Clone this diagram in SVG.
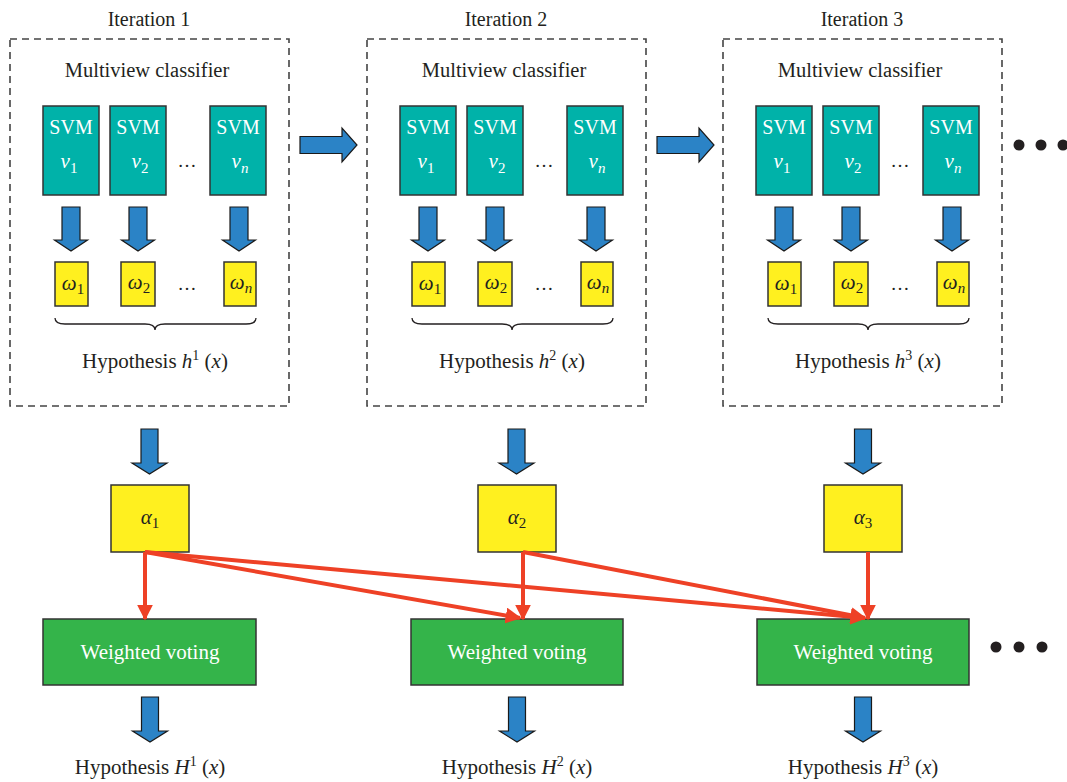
<svg xmlns="http://www.w3.org/2000/svg" xmlns:xlink="http://www.w3.org/1999/xlink" width="1067" height="782" viewBox="0 0 1067 782">
<style>
text{font-family:"Liberation Serif","Times New Roman",serif;fill:#231f20}
.panel{fill:none;stroke:#444;stroke-width:1.6;stroke-dasharray:7,5}
.svm{fill:#00b2a9;stroke:#333;stroke-width:1.5}
.w{fill:#fff01f;stroke:#333;stroke-width:1.5}
.vote{fill:#34b44a;stroke:#333;stroke-width:1.5}
.barrow{fill:#2b83c6;stroke:#1a1a1a;stroke-width:1.2;stroke-linejoin:miter}
.brace{fill:none;stroke:#231f20;stroke-width:1.3}
.red{stroke:#ee4126;stroke-width:4;fill:none}
.wt{fill:#ffffff}
.it{font-style:italic}
.dot{fill:#231f20}
.ttl{font-size:20px}
.mv{font-size:20.5px}
.hy{font-size:21px}
.gk{font-size:21px}
</style>
<defs>
<path id="da" class="barrow" d="M-9,0 H9 V33 H16.5 L0,44 L-16.5,33 H-9 Z"/>
<path id="db" class="barrow" d="M-8.5,0 H8.5 V34 H17.5 L0,45 L-17.5,34 H-8.5 Z"/>
<path id="ra" class="barrow" d="M0,-8.5 H42 V-17 L57,0 L42,17 V8.5 H0 Z"/>
<marker id="rh" viewBox="0 0 10 10" refX="9" refY="5" markerWidth="4" markerHeight="4" orient="auto" markerUnits="strokeWidth">
<path d="M0,0 L10,5 L0,10 Z" fill="#ee4126"/>
</marker>
</defs>

<!-- Panel 1 -->
<g id="iteration1">
<text class="ttl" x="149" y="26" text-anchor="middle">Iteration 1</text>
<rect class="panel" x="10" y="39" width="279" height="367"/>
<text class="mv" x="147" y="77" text-anchor="middle">Multiview classifier</text>
<g id="svm1-1"><rect class="svm" x="43" y="106" width="56" height="89"/><text class="wt" x="71" y="134" font-size="20" text-anchor="middle">SVM</text><text class="wt" x="69" y="168" font-size="21" text-anchor="middle"><tspan class="it wt">v</tspan><tspan class="wt" font-size="15" dy="5">1</tspan></text></g>
<g id="svm1-2"><rect class="svm" x="110" y="106" width="56" height="89"/><text class="wt" x="138" y="134" font-size="20" text-anchor="middle">SVM</text><text class="wt" x="140" y="168" font-size="21" text-anchor="middle"><tspan class="it wt">v</tspan><tspan class="wt" font-size="15" dy="5">2</tspan></text></g>
<text x="187" y="167" font-size="19" text-anchor="middle">…</text>
<g id="svm1-n"><rect class="svm" x="210" y="106" width="56" height="89"/><text class="wt" x="238" y="134" font-size="20" text-anchor="middle">SVM</text><text class="wt" x="240" y="168" font-size="21" text-anchor="middle"><tspan class="it wt">v</tspan><tspan class="it wt" font-size="15" dy="5">n</tspan></text></g>
<use href="#da" x="71" y="207"/>
<use href="#da" x="138" y="207"/>
<use href="#da" x="239" y="207"/>
<g id="w1-1"><rect class="w" x="55" y="262" width="33" height="44"/><text class="gk" x="73" y="290" text-anchor="middle"><tspan class="it">ω</tspan><tspan font-size="15" dy="4">1</tspan></text></g>
<g id="w1-2"><rect class="w" x="121" y="262" width="34" height="44"/><text class="gk" x="139" y="289" text-anchor="middle"><tspan class="it">ω</tspan><tspan font-size="15" dy="4">2</tspan></text></g>
<text x="187" y="290" font-size="19" text-anchor="middle">…</text>
<g id="w1-n"><rect class="w" x="224" y="262" width="32" height="44"/><text class="gk" x="241" y="289" text-anchor="middle"><tspan class="it">ω</tspan><tspan class="it" font-size="15" dy="4">n</tspan></text></g>
<path class="brace" d="M55,318 Q55,324 65,324 L145,324 Q155,324 155,330 Q155,324 165,324 L246,324 Q256,324 256,318"/>
<text class="hy" x="155" y="368" text-anchor="middle">Hypothesis <tspan class="it">h</tspan><tspan font-size="14" dy="-8">1</tspan><tspan dy="8"> (</tspan><tspan class="it">x</tspan>)</text>
</g>

<!-- Panel 2 -->
<g id="iteration2" transform="translate(357,0)">
<text class="ttl" x="149" y="26" text-anchor="middle">Iteration 2</text>
<rect class="panel" x="10" y="39" width="279" height="367"/>
<text class="mv" x="147" y="77" text-anchor="middle">Multiview classifier</text>
<g id="svm2-1"><rect class="svm" x="43" y="106" width="56" height="89"/><text class="wt" x="71" y="134" font-size="20" text-anchor="middle">SVM</text><text class="wt" x="69" y="168" font-size="21" text-anchor="middle"><tspan class="it wt">v</tspan><tspan class="wt" font-size="15" dy="5">1</tspan></text></g>
<g id="svm2-2"><rect class="svm" x="110" y="106" width="56" height="89"/><text class="wt" x="138" y="134" font-size="20" text-anchor="middle">SVM</text><text class="wt" x="140" y="168" font-size="21" text-anchor="middle"><tspan class="it wt">v</tspan><tspan class="wt" font-size="15" dy="5">2</tspan></text></g>
<text x="187" y="167" font-size="19" text-anchor="middle">…</text>
<g id="svm2-n"><rect class="svm" x="210" y="106" width="56" height="89"/><text class="wt" x="238" y="134" font-size="20" text-anchor="middle">SVM</text><text class="wt" x="240" y="168" font-size="21" text-anchor="middle"><tspan class="it wt">v</tspan><tspan class="it wt" font-size="15" dy="5">n</tspan></text></g>
<use href="#da" x="71" y="207"/>
<use href="#da" x="138" y="207"/>
<use href="#da" x="239" y="207"/>
<g id="w2-1"><rect class="w" x="55" y="262" width="33" height="44"/><text class="gk" x="73" y="290" text-anchor="middle"><tspan class="it">ω</tspan><tspan font-size="15" dy="4">1</tspan></text></g>
<g id="w2-2"><rect class="w" x="121" y="262" width="34" height="44"/><text class="gk" x="139" y="289" text-anchor="middle"><tspan class="it">ω</tspan><tspan font-size="15" dy="4">2</tspan></text></g>
<text x="187" y="290" font-size="19" text-anchor="middle">…</text>
<g id="w2-n"><rect class="w" x="224" y="262" width="32" height="44"/><text class="gk" x="241" y="289" text-anchor="middle"><tspan class="it">ω</tspan><tspan class="it" font-size="15" dy="4">n</tspan></text></g>
<path class="brace" d="M55,318 Q55,324 65,324 L145,324 Q155,324 155,330 Q155,324 165,324 L246,324 Q256,324 256,318"/>
<text class="hy" x="155" y="368" text-anchor="middle">Hypothesis <tspan class="it">h</tspan><tspan font-size="14" dy="-8">2</tspan><tspan dy="8"> (</tspan><tspan class="it">x</tspan>)</text>
</g>

<!-- Panel 3 -->
<g id="iteration3" transform="translate(713,0)">
<text class="ttl" x="149" y="26" text-anchor="middle">Iteration 3</text>
<rect class="panel" x="10" y="39" width="279" height="367"/>
<text class="mv" x="147" y="77" text-anchor="middle">Multiview classifier</text>
<g id="svm3-1"><rect class="svm" x="43" y="106" width="56" height="89"/><text class="wt" x="71" y="134" font-size="20" text-anchor="middle">SVM</text><text class="wt" x="69" y="168" font-size="21" text-anchor="middle"><tspan class="it wt">v</tspan><tspan class="wt" font-size="15" dy="5">1</tspan></text></g>
<g id="svm3-2"><rect class="svm" x="110" y="106" width="56" height="89"/><text class="wt" x="138" y="134" font-size="20" text-anchor="middle">SVM</text><text class="wt" x="140" y="168" font-size="21" text-anchor="middle"><tspan class="it wt">v</tspan><tspan class="wt" font-size="15" dy="5">2</tspan></text></g>
<text x="187" y="167" font-size="19" text-anchor="middle">…</text>
<g id="svm3-n"><rect class="svm" x="210" y="106" width="56" height="89"/><text class="wt" x="238" y="134" font-size="20" text-anchor="middle">SVM</text><text class="wt" x="240" y="168" font-size="21" text-anchor="middle"><tspan class="it wt">v</tspan><tspan class="it wt" font-size="15" dy="5">n</tspan></text></g>
<use href="#da" x="71" y="207"/>
<use href="#da" x="138" y="207"/>
<use href="#da" x="239" y="207"/>
<g id="w3-1"><rect class="w" x="55" y="262" width="33" height="44"/><text class="gk" x="73" y="290" text-anchor="middle"><tspan class="it">ω</tspan><tspan font-size="15" dy="4">1</tspan></text></g>
<g id="w3-2"><rect class="w" x="121" y="262" width="34" height="44"/><text class="gk" x="139" y="289" text-anchor="middle"><tspan class="it">ω</tspan><tspan font-size="15" dy="4">2</tspan></text></g>
<text x="187" y="290" font-size="19" text-anchor="middle">…</text>
<g id="w3-n"><rect class="w" x="224" y="262" width="32" height="44"/><text class="gk" x="241" y="289" text-anchor="middle"><tspan class="it">ω</tspan><tspan class="it" font-size="15" dy="4">n</tspan></text></g>
<path class="brace" d="M55,318 Q55,324 65,324 L145,324 Q155,324 155,330 Q155,324 165,324 L246,324 Q256,324 256,318"/>
<text class="hy" x="155" y="368" text-anchor="middle">Hypothesis <tspan class="it">h</tspan><tspan font-size="14" dy="-8">3</tspan><tspan dy="8"> (</tspan><tspan class="it">x</tspan>)</text>
</g>

<g id="more-top"><circle class="dot" cx="1019" cy="145" r="5.5"/><circle class="dot" cx="1041" cy="145" r="5.5"/><circle class="dot" cx="1063" cy="145" r="5.5"/></g>

<!-- alpha nodes -->
<g id="alpha1"><rect class="w" x="111" y="485" width="78" height="67"/><text class="gk" x="150" y="524" text-anchor="middle"><tspan class="it">α</tspan><tspan font-size="15" dy="4">1</tspan></text></g>
<g id="alpha2"><rect class="w" x="478" y="485" width="78" height="67"/><text class="gk" x="517" y="524" text-anchor="middle"><tspan class="it">α</tspan><tspan font-size="15" dy="4">2</tspan></text></g>
<g id="alpha3"><rect class="w" x="824" y="485" width="78" height="67"/><text class="gk" x="863" y="524" text-anchor="middle"><tspan class="it">α</tspan><tspan font-size="15" dy="4">3</tspan></text></g>

<!-- voting nodes -->
<g id="vote1"><rect class="vote" x="43" y="619" width="213" height="66"/><text class="wt" x="150" y="659" font-size="21" text-anchor="middle">Weighted voting</text></g>
<g id="vote2"><rect class="vote" x="411" y="619" width="212" height="66"/><text class="wt" x="517" y="659" font-size="21" text-anchor="middle">Weighted voting</text></g>
<g id="vote3"><rect class="vote" x="757" y="619" width="212" height="66"/><text class="wt" x="863" y="659" font-size="21" text-anchor="middle">Weighted voting</text></g>

<g id="more-bottom"><circle class="dot" cx="996" cy="647" r="5.5"/><circle class="dot" cx="1019" cy="647" r="5.5"/><circle class="dot" cx="1042" cy="647" r="5.5"/></g>

<!-- outputs -->
<g id="out1"><text class="hy" x="150" y="774" text-anchor="middle">Hypothesis <tspan class="it">H</tspan><tspan font-size="14" dy="-8">1</tspan><tspan dy="8"> (</tspan><tspan class="it">x</tspan>)</text></g>
<g id="out2"><text class="hy" x="517" y="774" text-anchor="middle">Hypothesis <tspan class="it">H</tspan><tspan font-size="14" dy="-8">2</tspan><tspan dy="8"> (</tspan><tspan class="it">x</tspan>)</text></g>
<g id="out3"><text class="hy" x="863" y="774" text-anchor="middle">Hypothesis <tspan class="it">H</tspan><tspan font-size="14" dy="-8">3</tspan><tspan dy="8"> (</tspan><tspan class="it">x</tspan>)</text></g>

<!-- connectors -->
<g id="connectors">
<use href="#ra" x="300" y="145"/>
<use href="#ra" x="657" y="145"/>
<use href="#db" x="149.5" y="429"/>
<use href="#db" x="516.5" y="429"/>
<use href="#db" x="863" y="429"/>
<use href="#db" x="150" y="697"/>
<use href="#db" x="517" y="697"/>
<use href="#db" x="863" y="697"/>
<line class="red" x1="145" y1="552" x2="145" y2="619" marker-end="url(#rh)"/>
<line class="red" x1="523" y1="552" x2="523" y2="619" marker-end="url(#rh)"/>
<line class="red" x1="868" y1="552" x2="868" y2="619" marker-end="url(#rh)"/>
<line class="red" x1="145" y1="552" x2="520" y2="618" marker-end="url(#rh)"/>
<line class="red" x1="145" y1="552" x2="865" y2="618" marker-end="url(#rh)"/>
<line class="red" x1="523" y1="552" x2="865" y2="618" marker-end="url(#rh)"/>
</g>
</svg>
